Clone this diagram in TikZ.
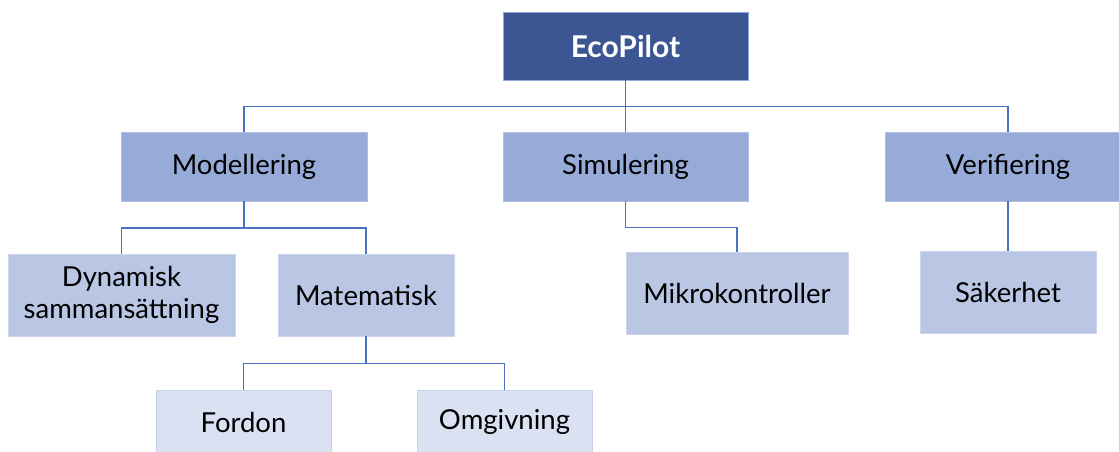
\documentclass[tikz,border=0pt]{standalone}
\usepackage{fontspec}
\setmainfont{Lato}
\definecolor{lineblue}{HTML}{4A72C4}
\definecolor{topfill}{HTML}{3B5693}
\definecolor{topedge}{HTML}{8EA9DB}
\definecolor{lvtwo}{HTML}{97ABD9}
\definecolor{lvthree}{HTML}{B9C7E5}
\definecolor{lvfour}{HTML}{DAE1F2}
\tikzset{
  box/.style={rectangle, inner sep=0pt, align=center, line width=0.9pt,
    font=\fontsize{27.5}{32}\selectfont, text=black},
  topbox/.style={box, fill=topfill, draw=topedge, text=white,
    font=\fontsize{30}{34}\selectfont\bfseries},
  twobox/.style={box, fill=lvtwo, draw=lvtwo!75!white},
  threebox/.style={box, fill=lvthree, draw=lvthree!75!white},
  fourbox/.style={box, fill=lvfour, draw=lvthree!80!white},
  conn/.style={draw=lineblue, line width=1.3pt}
}
\begin{document}
\begin{tikzpicture}[x=1pt, y=-1pt]
  \useasboundingbox (0,0) rectangle (1119,452);
  \clip (0,0) rectangle (1119,452);
  % root
  \node[topbox, minimum width=245, minimum height=68] (eco) at (625.5,46) {EcoPilot};
  % second level
  \node[twobox, minimum width=246, minimum height=69] (mod) at (244,166.5) {Modellering};
  \node[twobox, minimum width=245, minimum height=69] (sim) at (625.5,166.5) {Simulering};
  \node[twobox, minimum width=246, minimum height=69] (ver) at (1008,166.5) {Verifiering};
  % third level
  \node[threebox, minimum width=227, minimum height=82] (dyn) at (121.5,295) {Dynamisk\\sammansättning};
  \node[threebox, minimum width=176, minimum height=82] (mat) at (366,295) {Matematisk};
  \node[threebox, minimum width=222, minimum height=82] (mik) at (737,293) {Mikrokontroller};
  \node[threebox, minimum width=176, minimum height=82] (sak) at (1008,292) {Säkerhet};
  % fourth level
  \node[fourbox, minimum width=175, minimum height=64] (for) at (243.5,422) {Fordon};
  \node[fourbox, minimum width=175, minimum height=64] (omg) at (504.5,422) {Omgivning};
  % connectors
  \foreach \c in {mod,sim,ver}
    \draw[conn] (eco.south) -- ++(0,26) -| (\c.north);
  \foreach \c in {dyn,mat}
    \draw[conn] (mod.south) -- ++(0,26.5) -| (\c.north);
  \draw[conn] (sim.south) -- ++(0,26) -| (mik.north);
  \draw[conn] (ver.south) -- (sak.north);
  \foreach \c in {for,omg}
    \draw[conn] (mat.south) -- ++(0,27) -| (\c.north);
\end{tikzpicture}
\end{document}
